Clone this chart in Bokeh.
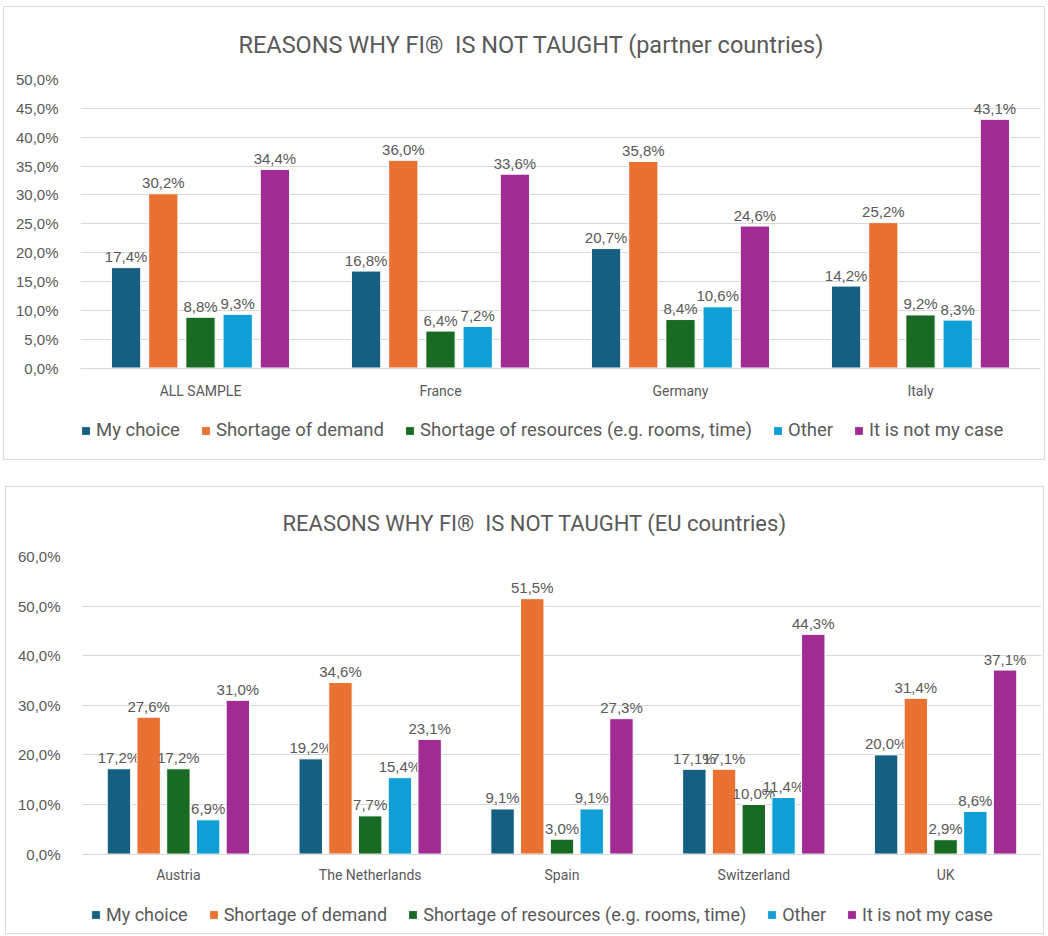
from bokeh.plotting import figure
from bokeh.models import (ColumnDataSource, FactorRange, Range1d, FixedTicker,
                          CustomJSTickFormatter, Legend, LegendItem, Title)
from bokeh.layouts import column
from bokeh.transform import dodge
from bokeh.core.properties import value
from bokeh.embed import file_html
from bokeh.resources import INLINE

# ---------------- data ----------------
series_names = ["My choice", "Shortage of demand",
                "Shortage of resources (e.g. rooms, time)", "Other",
                "It is not my case"]
series_colors = ["#156082", "#E97132", "#196B24", "#0F9ED5", "#A02B93"]

partner_countries = ["ALL SAMPLE", "France", "Germany", "Italy"]
partner_my_choice = [17.4, 16.8, 20.7, 14.2]
partner_shortage_demand = [30.2, 36.0, 35.8, 25.2]
partner_shortage_resources = [8.8, 6.4, 8.4, 9.2]
partner_other = [9.3, 7.2, 10.6, 8.3]
partner_not_my_case = [34.4, 33.6, 24.6, 43.1]
partner_ticks = [0, 5, 10, 15, 20, 25, 30, 35, 40, 45, 50]

eu_countries = ["Austria", "The Netherlands", "Spain", "Switzerland", "UK"]
eu_my_choice = [17.2, 19.2, 9.1, 17.1, 20.0]
eu_shortage_demand = [27.6, 34.6, 51.5, 17.1, 31.4]
eu_shortage_resources = [17.2, 7.7, 3.0, 10.0, 2.9]
eu_other = [6.9, 15.4, 9.1, 11.4, 8.6]
eu_not_my_case = [31.0, 23.1, 27.3, 44.3, 37.1]
eu_ticks = [0, 10, 20, 30, 40, 50, 60]

NARROW = "Roboto"
REG = "Liberation Sans"
GRAY = "#595959"
GRID = "#d9d9d9"


def fmt(v):
    return f"{v:.1f}%".replace(".", ",")


def make_chart(title, cats, values, ticks, frame_w, plot_h, below_h,
               borders, margin, title_size, title_offset, x_standoff,
               leg_size, spacing, leg_loc):
    b_left, b_right, b_top, b_bottom = borders
    # the frame also holds the space below zero (category labels + legend)
    y_bottom = -ticks[-1] * below_h / plot_h
    p = figure(x_range=FactorRange(factors=cats, range_padding=0),
               y_range=Range1d(y_bottom, ticks[-1]),
               frame_width=frame_w, frame_height=plot_h + below_h,
               output_backend="svg",
               toolbar_location=None, min_border_left=b_left,
               min_border_right=b_right, min_border_top=b_top,
               min_border_bottom=b_bottom, margin=margin,
               styles={"border": "1px solid #d9d9d9"})
    p.outline_line_color = None
    p.title = Title(text=title, align="left", offset=title_offset,
                    text_font=NARROW, text_font_size=title_size,
                    text_font_style="normal", text_color=GRAY, standoff=42)

    data = {"cat": cats}
    for j, vals in enumerate(values):
        data[f"s{j}"] = vals
        data[f"l{j}"] = [fmt(v) for v in vals]
    src = ColumnDataSource(data)

    items = []
    for j, (name, color) in enumerate(zip(series_names, series_colors)):
        off = (j - 2) * 0.155
        r = p.vbar(x=dodge("cat", off, range=p.x_range), top=f"s{j}",
                   width=0.122, source=src, fill_color=color,
                   line_color="white", line_width=1)
        p.text(x=dodge("cat", off, range=p.x_range), y=f"s{j}",
               text=f"l{j}", source=src, text_align="center",
               text_baseline="alphabetic", y_offset=-11,
               text_font=value(REG), text_font_size="15px",
               text_color=GRAY)
        items.append(LegendItem(label=name, renderers=[r]))

    p.yaxis.ticker = FixedTicker(ticks=ticks)
    p.yaxis.formatter = CustomJSTickFormatter(
        code="return tick.toFixed(1).replace('.', ',') + '%';")
    p.yaxis.axis_line_color = None
    p.yaxis.major_tick_line_color = None
    p.yaxis.minor_tick_line_color = None
    p.yaxis.major_label_standoff = 16
    p.yaxis.major_label_text_font = REG
    p.yaxis.major_label_text_font_size = "15px"
    p.yaxis.major_label_text_color = GRAY

    p.xaxis.fixed_location = 0
    p.xaxis.axis_line_color = GRID
    p.xaxis.major_tick_line_color = None
    p.xaxis.minor_tick_line_color = None
    p.xaxis.major_label_standoff = x_standoff
    p.xaxis.major_label_text_font = NARROW
    p.xaxis.major_label_text_font_size = "14px"
    p.xaxis.major_label_text_color = GRAY

    p.xgrid.grid_line_color = None
    p.ygrid.grid_line_color = GRID
    p.ygrid.grid_line_width = 1

    legend = Legend(items=items, orientation="horizontal", location=leg_loc,
                    glyph_width=11, glyph_height=11, label_standoff=5,
                    spacing=spacing, padding=0, margin=0,
                    border_line_color=None, background_fill_alpha=0,
                    label_text_font=NARROW, label_text_font_size=leg_size,
                    label_text_color=GRAY)
    p.add_layout(legend, "center")
    return p


p1 = make_chart("REASONS WHY FI\u00ae\u00a0 IS NOT TAUGHT (partner countries)",
                partner_countries,
                [partner_my_choice, partner_shortage_demand,
                 partner_shortage_resources, partner_other,
                 partner_not_my_case],
                partner_ticks, 958, 287, 92, (76, 6, 72, 1), (6, 0, 0, 3),
                "23.5px", 158, 9, "18.5px", 20, (0, 19))
p2 = make_chart("REASONS WHY FI\u00ae\u00a0 IS NOT TAUGHT (EU countries)",
                eu_countries,
                [eu_my_choice, eu_shortage_demand, eu_shortage_resources,
                 eu_other, eu_not_my_case],
                eu_ticks, 957, 296, 80, (74, 6, 67, 1), (26, 0, 0, 5),
                "22px", 200, 7, "18px", 20, (8, 9))

layout = column(p1, p2)
open("out.html", "w").write(file_html(layout, INLINE))
